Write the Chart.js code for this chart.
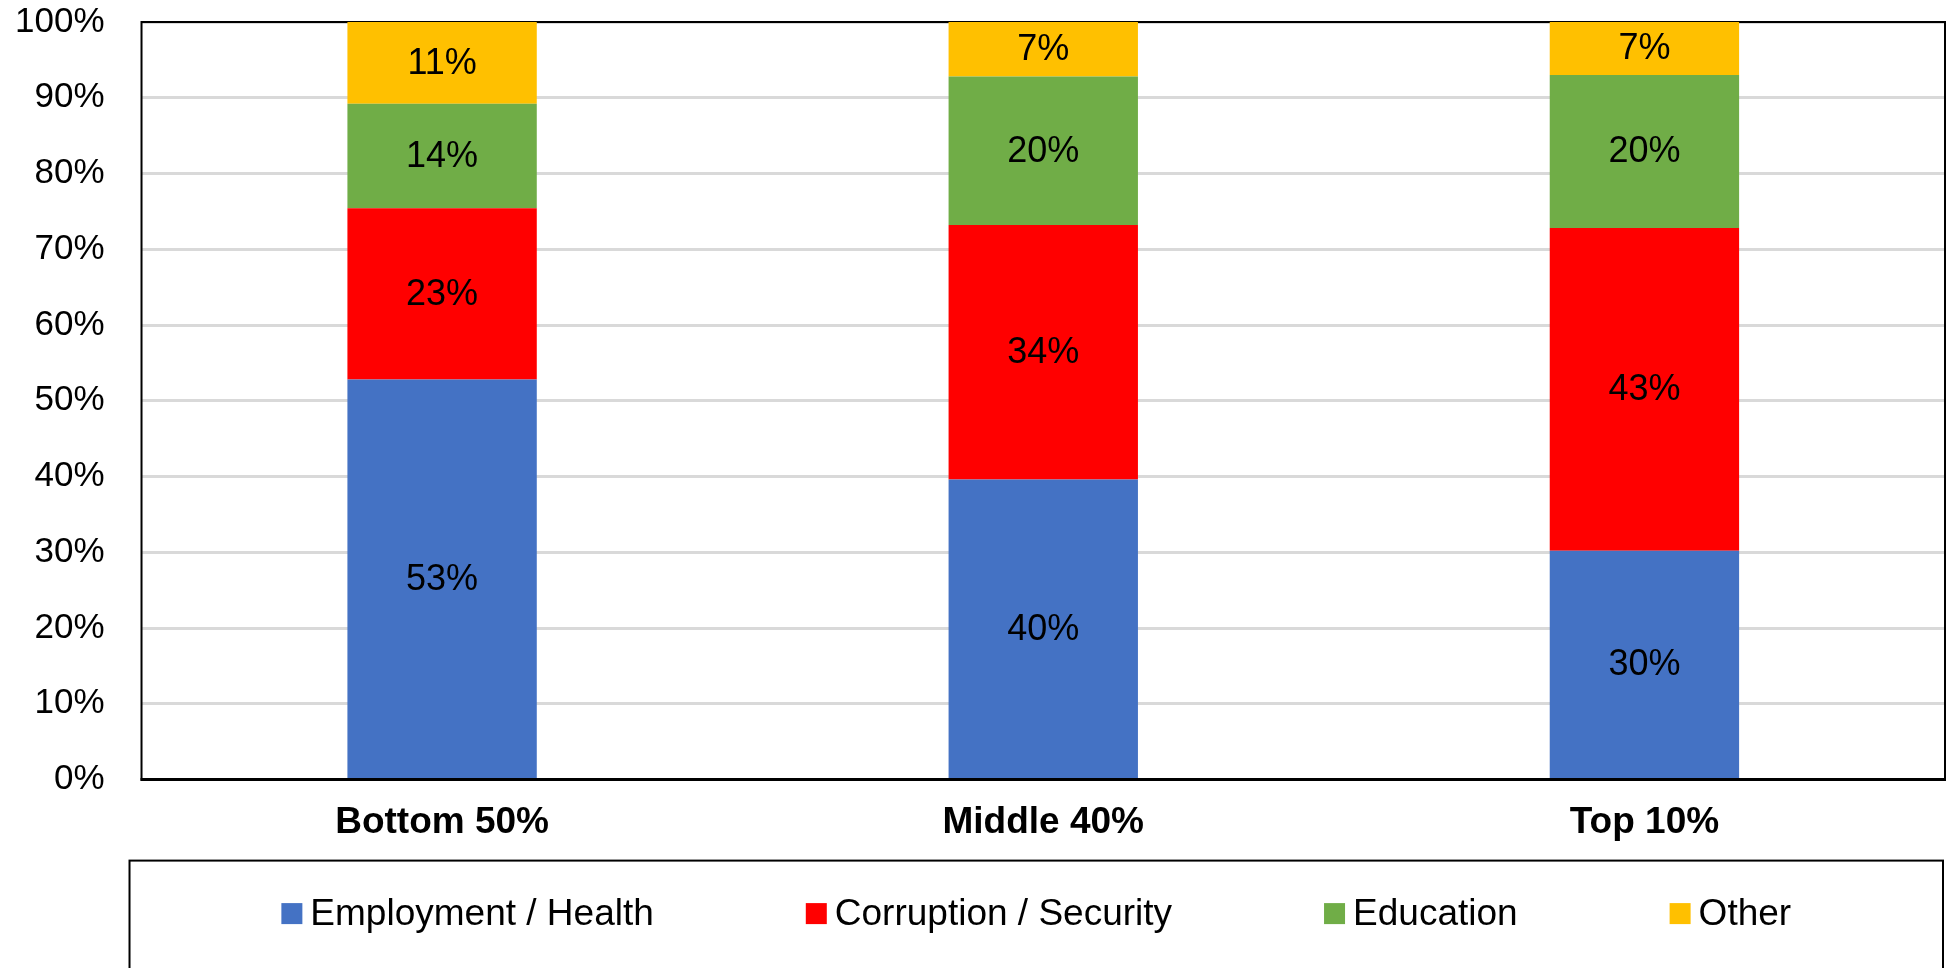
<!DOCTYPE html>
<html>
<head>
<meta charset="utf-8">
<title>Priorities by income group</title>
<script src="https://cdn.jsdelivr.net/npm/chart.js@4.4.1/dist/chart.umd.min.js"></script>
<style>
  html, body { margin: 0; padding: 0; background: #fff; overflow: hidden; }
  canvas { display: block; }
</style>
</head>
<body>
<canvas id="chart" width="1949" height="968"></canvas>
<script>
// data (shares in %, each bar sums to 100)
const categories = ['Bottom 50%', 'Middle 40%', 'Top 10%'];
const seriesNames = ['Employment / Health', 'Corruption / Security', 'Education', 'Other'];
const employmentHealth = [52.8, 39.6, 30.2];
const corruptionSecurity = [22.6, 33.6, 42.6];
const education = [13.8, 19.6, 20.2];
const other = [10.8, 7.2, 7.0];
const yTicks = [0, 10, 20, 30, 40, 50, 60, 70, 80, 90, 100];

const seriesColors = ['#4472C4', '#FF0000', '#70AD47', '#FFC000'];
const FONT = "'Liberation Sans', Arial, sans-serif";

// frame round the plot area, drawn under the bars
const framePlugin = {
    id: 'frame',
    beforeDatasetsDraw(chart) {
        const { ctx, chartArea: a } = chart;
        ctx.save();
        ctx.strokeStyle = '#000';
        ctx.lineWidth = 2;
        ctx.strokeRect(a.left, a.top, a.right - a.left, a.bottom - a.top);
        ctx.lineWidth = 3;
        ctx.beginPath();
        ctx.moveTo(a.left - 1, a.bottom);
        ctx.lineTo(a.right + 1, a.bottom);
        ctx.stroke();
        ctx.restore();
    }
};

// value labels in the middle of each segment
const valueLabels = {
    id: 'valueLabels',
    afterDatasetsDraw(chart) {
        const ctx = chart.ctx;
        ctx.save();
        ctx.font = '36px ' + FONT;
        ctx.fillStyle = '#000';
        ctx.textAlign = 'center';
        ctx.textBaseline = 'middle';
        chart.data.datasets.forEach((ds, i) => {
            chart.getDatasetMeta(i).data.forEach((bar, j) => {
                const p = bar.getProps(['x', 'y', 'base'], true);
                ctx.fillText(Math.round(ds.data[j]) + '%', p.x, (p.y + p.base) / 2 + 1);
            });
        });
        ctx.restore();
    }
};

// Excel-like boxed legend under the axis
const boxLegend = {
    id: 'boxLegend',
    afterDraw(chart) {
        const { ctx, chartArea: a } = chart;
        const left = a.left - 12;
        const right = a.right - 2;
        const top = a.bottom + 81;
        const midY = top + 53;
        const box = 21, gap = 8, spacing = 152;

        ctx.save();
        ctx.strokeStyle = '#000';
        ctx.lineWidth = 2;
        ctx.strokeRect(left, top, right - left, chart.height + 20 - top);

        ctx.font = '37px ' + FONT;
        ctx.textBaseline = 'middle';
        ctx.textAlign = 'left';
        const items = chart.data.datasets.map(ds => ({
            text: ds.label,
            color: ds.backgroundColor,
            w: box + gap + ctx.measureText(ds.label).width
        }));
        const total = items.reduce((s, it) => s + it.w, 0) + spacing * (items.length - 1);
        let x = (left + right) / 2 - total / 2;
        items.forEach(it => {
            ctx.fillStyle = it.color;
            ctx.fillRect(x, midY - box / 2, box, box);
            ctx.fillStyle = '#000';
            ctx.fillText(it.text, x + box + gap, midY + 1);
            x += it.w + spacing;
        });
        ctx.restore();
    }
};

const seriesData = [employmentHealth, corruptionSecurity, education, other];

new Chart(document.getElementById('chart').getContext('2d'), {
    type: 'bar',
    data: {
        labels: categories,
        datasets: seriesNames.map((name, i) => ({
            label: name,
            data: seriesData[i],
            backgroundColor: seriesColors[i],
            borderWidth: 0,
            categoryPercentage: 0.315,
            barPercentage: 1
        }))
    },
    options: {
        responsive: false,
        animation: false,
        devicePixelRatio: 1,
        layout: {
            padding: { left: 14, right: 4, top: 2, bottom: 123 }
        },
        plugins: {
            legend: { display: false },
            tooltip: { enabled: false }
        },
        scales: {
            x: {
                stacked: true,
                grid: {
                    drawOnChartArea: false,
                    tickLength: 21,
                    tickColor: 'rgba(0,0,0,0)'
                },
                border: { display: false },
                ticks: {
                    color: '#000',
                    padding: 0,
                    font: { family: FONT, size: 37, weight: 'bold' }
                }
            },
            y: {
                stacked: true,
                min: 0,
                max: 100,
                afterBuildTicks: scale => {
                    scale.ticks = yTicks.map(v => ({ value: v }));
                },
                grid: {
                    color: '#D9D9D9',
                    lineWidth: 3,
                    tickLength: 36,
                    tickColor: 'rgba(0,0,0,0)'
                },
                border: { display: false },
                ticks: {
                    color: '#000',
                    padding: 1,
                    font: { family: FONT, size: 35 },
                    callback: v => v + '%'
                }
            }
        }
    },
    plugins: [framePlugin, valueLabels, boxLegend]
});
</script>
</body>
</html>
